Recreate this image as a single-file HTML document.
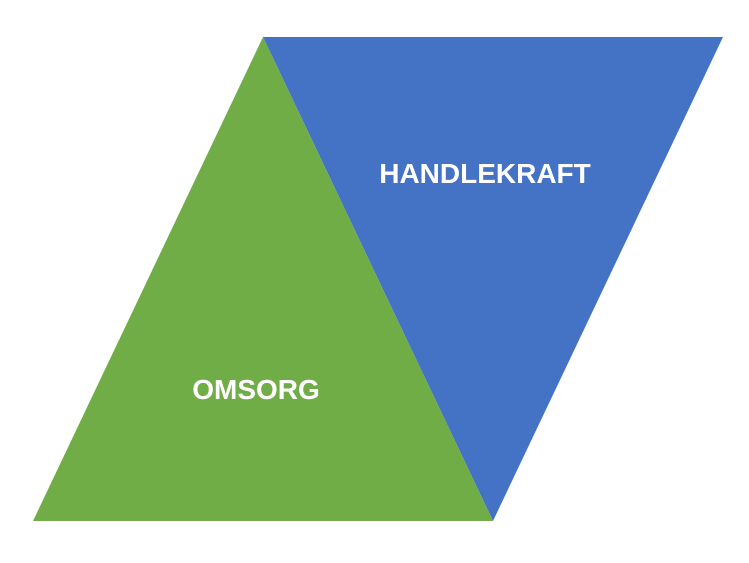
<!DOCTYPE html>
<html><head><meta charset="utf-8"><style>
html,body{margin:0;padding:0;background:#fff;}
svg{display:block;}
</style></head><body>
<svg width="749" height="563" viewBox="0 0 749 563" xmlns="http://www.w3.org/2000/svg">
<polygon points="263,37 723,37 493,521" fill="#4472C4"/>
<polygon points="263,37 33,521 493,521" fill="#70AD47"/>
<text x="485" y="183" fill="#fff" font-family="Liberation Sans, sans-serif" font-weight="bold" font-size="28" text-anchor="middle">HANDLEKRAFT</text>
<text x="256" y="399" fill="#fff" font-family="Liberation Sans, sans-serif" font-weight="bold" font-size="28" text-anchor="middle">OMSORG</text>
</svg>
</body></html>
